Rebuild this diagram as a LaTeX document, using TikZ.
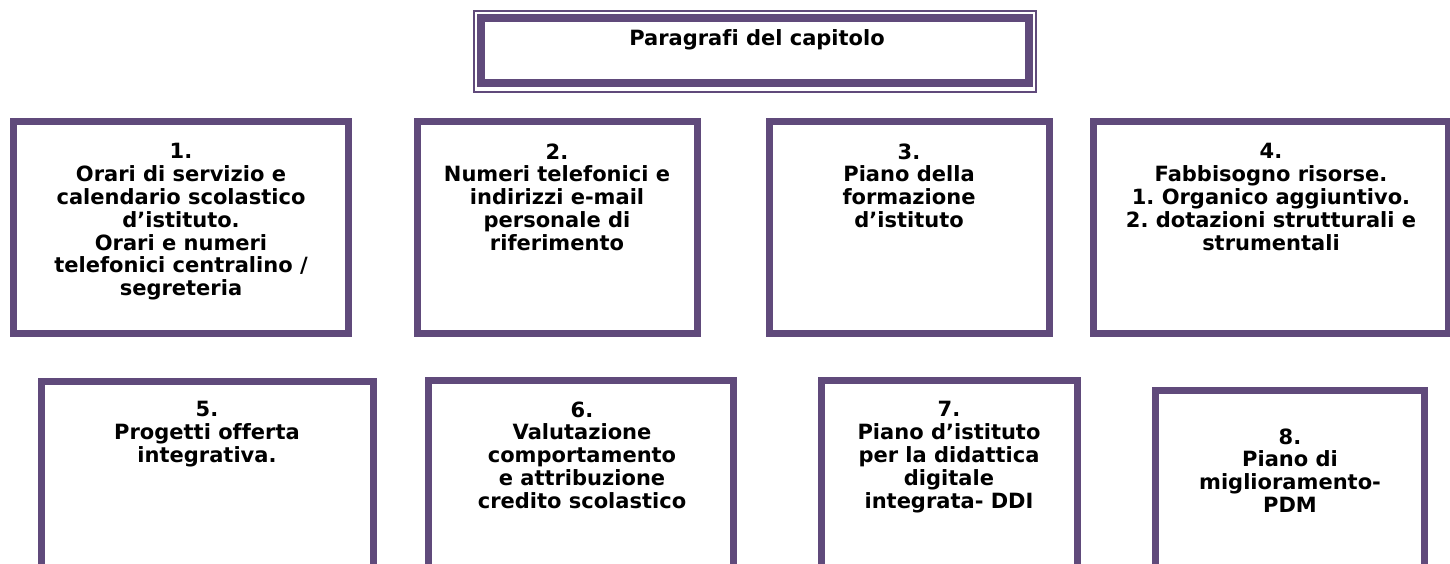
\documentclass[tikz,border=0pt]{standalone}
\usepackage{fontspec}
\setmainfont[Ligatures={NoCommon}]{DejaVu Sans}
\definecolor{boxpurple}{RGB}{96,74,123}
\frenchspacing
\begin{document}
\begin{tikzpicture}[x=1pt,y=-1pt,
  box/.style={draw=boxpurple, line width=7pt, fill=white, rectangle, inner sep=0pt},
  txt/.style={align=center, inner sep=0pt, anchor=north, font=\bfseries\fontsize{21}{22.8}\selectfont},
]
\useasboundingbox (0,0) rectangle (1450,564);
\clip (0,0) rectangle (1450,564);
\fill[white] (0,0) rectangle (1450,564);
% title
\node[draw=boxpurple, line width=2pt, minimum width=562pt, minimum height=81.3pt, inner sep=0pt] (frame) at (755.3,51.65) {};
\node[draw=boxpurple, line width=8pt, minimum width=548pt, minimum height=65.3pt, inner sep=0pt] (title) at (755.3,50.65) {};
\node[txt] (tt) at (757,29.8) {Paragrafi del capitolo};
% row 1
\node[box, minimum width=335pt, minimum height=211.2pt] (b1) at (181,227.6) {};
\node[box, minimum width=280.2pt, minimum height=211.2pt] (b2) at (557.1,227.6) {};
\node[box, minimum width=279.7pt, minimum height=211.2pt] (b3) at (909.35,227.6) {};
\node[box, minimum width=355pt, minimum height=211.2pt] (b4) at (1271,227.6) {};
% row 2
\node[box, minimum width=332.3pt, minimum height=214.7pt] (b5) at (207.65,489.15) {};
\node[box, minimum width=305pt, minimum height=216.3pt] (b6) at (581,488.35) {};
\node[box, minimum width=255.7pt, minimum height=216.3pt] (b7) at (949.35,488.35) {};
\node[box, minimum width=269.3pt, minimum height=205.7pt] (b8) at (1289.85,493.65) {};
% texts
\node[txt] (t1) at (181,143.3) {1.\\Orari di servizio e\\calendario scolastico\\d’istituto.\\Orari e numeri\\telefonici centralino /\\segreteria};
\node[txt] (t2) at (557,143.3) {2.\\Numeri telefonici e\\indirizzi e-mail\\personale di\\riferimento};
\node[txt] (t3) at (909,143.3) {3.\\Piano della\\formazione\\d’istituto};
\node[txt] (t4) at (1271,143.3) {4.\\Fabbisogno risorse.\\1. Organico aggiuntivo.\\2. dotazioni strutturali e\\strumentali};
\node[txt] (t5) at (207,401.4) {5.\\Progetti offerta\\integrativa.};
\node[txt] (t6) at (582,401.4) {6.\\Valutazione\\comportamento\\e attribuzione\\credito scolastico};
\node[txt] (t7) at (949,401.4) {7.\\Piano d’istituto\\per la didattica\\digitale\\integrata- DDI};
\node[txt] (t8) at (1290,428.4) {8.\\Piano di\\miglioramento-\\PDM};
\end{tikzpicture}
\end{document}
